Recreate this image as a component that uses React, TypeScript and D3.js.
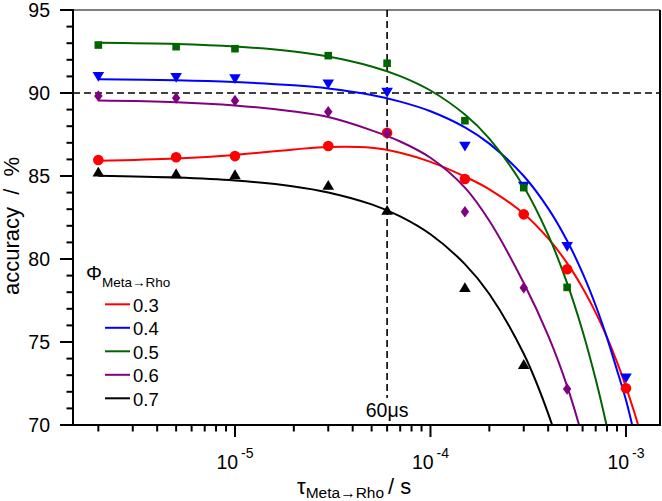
import React from "react";
import * as d3 from "d3";

const X_VALUES = [2e-6, 5e-6, 1e-5, 3e-5, 6e-5, 1.5e-4, 3e-4, 5e-4, 1e-3];

const RED_Y = [85.96, 86.13, 86.2, 86.81, 87.6, 84.82, 82.69, 79.38, 72.21];
const BLUE_Y = [90.98, 90.92, 90.84, 90.52, 90.02, 86.77, 84.36, 80.74, 72.81];
const GREEN_Y = [92.89, 92.79, 92.67, 92.25, 91.79, 88.33, 84.3, 78.29, null];
const PURPLE_Y = [89.82, 89.7, 89.54, 88.87, 87.57, 82.85, 78.27, 72.17, null];
const BLACK_Y = [85.26, 85.16, 85.1, 84.46, 82.95, 78.3, 73.67, null, null];

const FIT_X = [2e-6, 5e-6, 1e-5, 2e-5, 3e-5, 5e-5, 7e-5, 1e-4, 1.5e-4, 2e-4, 3e-4, 4e-4, 5e-4, 6e-4, 7e-4, 8e-4, 9e-4, 1e-3, 1.1e-3, 1.2e-3, 1.3e-3];

const RED_FIT = [85.92, 86.06, 86.27, 86.6, 86.75, 86.7, 86.4, 85.85, 84.96, 84.2, 82.73, 81.24, 79.75, 78.26, 76.77, 75.28, 73.79, 72.3, 70.81, 69.32, 67.83];
const BLUE_FIT = [90.83, 90.77, 90.66, 90.46, 90.27, 89.88, 89.48, 88.9, 87.93, 86.95, 85.0, 83.05, 81.1, 79.15, 77.2, 75.25, 73.3, 71.5, 69.5, 67.4, null];
const GREEN_FIT = [93.02, 92.95, 92.8, 92.5, 92.2, 91.6, 91.02, 90.15, 88.7, 87.25, 84.35, 81.45, 78.55, 75.65, 72.75, 69.85, 66.95, null, null, null, null];
const PURPLE_FIT = [89.55, 89.45, 89.25, 88.88, 88.55, 87.75, 87.08, 86.1, 84.3, 82.3, 78.55, 75.38, 72.34, 69.24, 66.1, null, null, null, null, null, null];
const BLACK_FIT = [85.02, 84.91, 84.73, 84.37, 84.01, 83.29, 82.57, 81.49, 79.69, 77.89, 74.29, 70.69, 67.09, null, null, null, null, null, null, null, null];

const LEGEND_LABELS = ["0.3", "0.4", "0.5", "0.6", "0.7"];
const Y_TICKS = [70, 75, 80, 85, 90, 95];
const X_MAJOR_EXP = [-5, -4, -3];
const REF_TIME = 6e-5;
const REF_ACC = 90;
const REF_LABEL = "60μs";

const FONT = "'Liberation Sans', Arial, sans-serif";

type Series = {
  color: string;
  shape: "circle" | "tdown" | "square" | "diamond" | "tup";
  y: (number | null)[];
  fit: (number | null)[];
};

const SERIES: Series[] = [
  { color: "#ff0000", shape: "circle", y: RED_Y, fit: RED_FIT },
  { color: "#0000ff", shape: "tdown", y: BLUE_Y, fit: BLUE_FIT },
  { color: "#006400", shape: "square", y: GREEN_Y, fit: GREEN_FIT },
  { color: "#800080", shape: "diamond", y: PURPLE_Y, fit: PURPLE_FIT },
  { color: "#000000", shape: "tup", y: BLACK_Y, fit: BLACK_FIT },
];

function marker(shape: Series["shape"], cx: number, cy: number, color: string, key: string) {
  switch (shape) {
    case "circle":
      return <circle key={key} cx={cx} cy={cy} r={5.3} fill={color} />;
    case "square":
      return <rect key={key} x={cx - 3.8} y={cy - 3.8} width={7.6} height={7.6} fill={color} />;
    case "tdown":
      return <path key={key} d={`M${cx - 5.8},${cy - 4.8}L${cx + 5.8},${cy - 4.8}L${cx},${cy + 5}Z`} fill={color} />;
    case "tup":
      return <path key={key} d={`M${cx - 5.8},${cy + 4.8}L${cx + 5.8},${cy + 4.8}L${cx},${cy - 5}Z`} fill={color} />;
    case "diamond":
      return <path key={key} d={`M${cx},${cy - 5.8}L${cx + 4.2},${cy}L${cx},${cy + 5.8}L${cx - 4.2},${cy}Z`} fill={color} />;
  }
}

export default function App() {
  const W = 662;
  const H = 501;
  const L = 73, R = 660, T = 10, B = 425;
  const x = d3.scaleLog().domain([1.484e-6, 1.493e-3]).range([L, R]);
  const y = d3.scaleLinear().domain([70, 95]).range([B, T]);

  const line = d3
    .line<[number, number]>()
    .x((d) => x(d[0]))
    .y((d) => y(d[1]))
    .curve(d3.curveCatmullRom.alpha(0.5));

  const minorY = d3.range(70, 96, 1).filter((v) => v % 5 !== 0);
  const xTicksAll: { v: number; major: boolean }[] = [];
  for (let e = -6; e <= -3; e++) {
    for (let m = 1; m <= 9; m++) {
      const v = m * Math.pow(10, e);
      if (v >= 1.484e-6 && v <= 1.493e-3) xTicksAll.push({ v, major: m === 1 });
    }
  }

  return (
    <svg width={W} height={H} style={{ display: "block", position: "absolute", left: 0, top: 0 }} fontFamily={FONT}>
      <defs>
        <clipPath id="plotclip">
          <rect x={L} y={T} width={R - L} height={B - T} />
        </clipPath>
      </defs>
      <rect x={0} y={0} width={W} height={H} fill="#fff" />

      {/* reference dashed lines */}
      <line x1={L} x2={R} y1={y(REF_ACC)} y2={y(REF_ACC)} stroke="#000" strokeWidth={1.6} strokeDasharray="7,4" />
      <line x1={x(REF_TIME)} x2={x(REF_TIME)} y1={T} y2={398} stroke="#000" strokeWidth={1.6} strokeDasharray="7,4" />
      <text x={x(REF_TIME)} y={417} fontSize={19.5} textAnchor="middle" fill="#000">{REF_LABEL}</text>

      {/* fit curves */}
      <g clipPath="url(#plotclip)">
        {SERIES.map((s, i) => {
          const pts: [number, number][] = [];
          FIT_X.forEach((v, j) => {
            const f = s.fit[j];
            if (f != null) pts.push([v, f]);
          });
          return <path key={"c" + i} d={line(pts) || ""} fill="none" stroke={s.color} strokeWidth={2} />;
        })}
      </g>

      {/* markers */}
      {SERIES.map((s, i) => (
        <g key={"m" + i}>
          {X_VALUES.map((xv, j) => (s.y[j] == null ? null : marker(s.shape, x(xv), y(s.y[j] as number), s.color, i + "-" + j)))}
        </g>
      ))}

      {/* frame */}
      <line x1={L} x2={R} y1={T} y2={T} stroke="#000" strokeWidth={1.2} />
      <line x1={R} x2={R} y1={T} y2={B} stroke="#000" strokeWidth={2} />
      <line x1={L} x2={L} y1={T - 1} y2={B + 1} stroke="#000" strokeWidth={2} />
      <line x1={L - 1} x2={R + 1} y1={B} y2={B} stroke="#000" strokeWidth={2} />

      {/* y ticks */}
      {Y_TICKS.map((v) => (
        <g key={"yt" + v}>
          <line x1={L - 13} x2={L} y1={y(v)} y2={y(v)} stroke="#000" strokeWidth={2} />
          <text x={50} y={y(v)} dy="0.36em" fontSize={19.5} textAnchor="end" fill="#000">{v}</text>
        </g>
      ))}
      {minorY.map((v) => (
        <line key={"ym" + v} x1={L - 6.5} x2={L} y1={y(v)} y2={y(v)} stroke="#000" strokeWidth={2} />
      ))}

      {/* x ticks */}
      {xTicksAll.map((t, i) => (
        <line key={"xt" + i} x1={x(t.v)} x2={x(t.v)} y1={B} y2={B + (t.major ? 12 : 6.5)} stroke="#000" strokeWidth={2} />
      ))}
      {X_MAJOR_EXP.map((e) => (
        <text key={"xl" + e} x={x(Math.pow(10, e))} y={469} fontSize={19.5} textAnchor="middle" fill="#000">
          <tspan>10</tspan>
          <tspan dx={3} dy={-11} fontSize={14}>{String(e)}</tspan>
        </text>
      ))}

      {/* axis titles */}
      <text
        transform={`translate(19,226) rotate(-90)`}
        fontSize={22}
        textAnchor="middle"
        fill="#000"
        style={{ wordSpacing: "6px" }}
      >
        accuracy / %
      </text>
      <text x={297} y={494} fontSize={22} fill="#000">
        <tspan>τ</tspan>
        <tspan dy={3.5} fontSize={15.5}>Meta→Rho</tspan>
        <tspan dy={-3.5} dx={4}>/ s</tspan>
      </text>

      {/* legend */}
      <text x={86} y={280} fontSize={20} fill="#000">
        <tspan>Φ</tspan>
        <tspan dy={6.5} fontSize={13.5}>Meta→Rho</tspan>
      </text>
      {SERIES.map((s, i) => {
        const ly = 304.3 + i * 23.5;
        return (
          <g key={"lg" + i}>
            <line x1={105} x2={130} y1={ly} y2={ly} stroke={s.color} strokeWidth={2} />
            <text x={133} y={ly + 7.2} fontSize={18.5} fill="#000">{LEGEND_LABELS[i]}</text>
          </g>
        );
      })}
    </svg>
  );
}
